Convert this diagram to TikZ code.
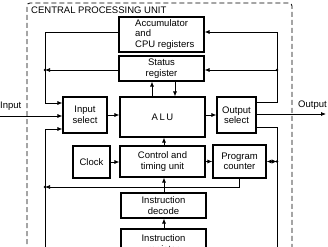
\documentclass[tikz,border=0pt]{standalone}
\usepackage{fontspec}
\setmainfont{Liberation Sans}
\usetikzlibrary{arrows.meta}
\begin{document}
\begin{tikzpicture}[x=1pt,y=-1pt,
  box/.style={draw, line width=1.1pt, inner sep=0pt, align=center, font=\fontsize{9.5}{10.5}\selectfont},
  lbl/.style={inner sep=0pt, font=\fontsize{9.5}{10.5}\selectfont},
  conn/.style={line width=0.75pt},
  tip/.tip={Latex[length=5pt,width=4pt]},
  arr/.style={conn, -tip},
  dot/.style={circle, fill, inner sep=0pt, minimum size=2.6pt},
  frame/.style={line width=0.8pt, dash pattern=on 5pt off 3pt, rounded corners=3pt}]
\fill[white] (0,0) rectangle (328,246);
\useasboundingbox (0,0) rectangle (328,246);
\clip (0,0) rectangle (328,246);
% frame and title
\draw[frame] (27,252) -- (27,3) -- (292,3) -- (292,252);
\node[lbl, anchor=west] (title) at (31,10) {CENTRAL PROCESSING UNIT};
% boxes
\node[box, minimum width=85pt, minimum height=35pt] (acc) at (161.5,34.5) {};
\node[lbl, align=left, anchor=west] (acctext) at (135,34.5) {Accumulator\\and\\CPU registers};
\node[box, minimum width=85pt, minimum height=25pt] (status) at (161.5,68.5) {Status\\register};
\node[box, minimum width=85pt, minimum height=40pt] (alu) at (162.5,117) {A\,L\,U};
\node[box, minimum width=44pt, minimum height=36pt] (insel) at (85,115) {Input\\select};
\node[box, minimum width=39pt, minimum height=36pt] (outsel) at (236.5,115) {Output\\select};
\node[box, minimum width=37pt, minimum height=32pt] (clock) at (91.5,162) {Clock};
\node[box, minimum width=85pt, minimum height=31pt] (ctrl) at (162.5,161.5) {Control and\\timing unit};
\node[box, minimum width=53pt, minimum height=33pt] (pc) at (239.5,161.5) {Program\\counter};
\node[box, minimum width=85pt, minimum height=25pt] (dec) at (163.5,205.5) {Instruction\\decode};
\node[box, minimum width=85pt, minimum height=31pt] (ireg) at (163.5,244.5) {Instruction\\register};
% outside labels
\node[lbl, anchor=west] (inlbl) at (0,106) {Input};
\node[lbl, anchor=west] (outlbl) at (298,105) {Output};
% helper coordinates
\coordinate (ua) at (45,32);
\coordinate (ub) at (45,103);
\coordinate (sj) at (45,70);
\coordinate (inL) at (0,116);
\coordinate (lb) at (45,129);
\coordinate (lbb) at (45,252);
\coordinate (fb) at (239.5,187);
\coordinate (fj) at (45,187);
\coordinate (sa1) at (152,0);
\coordinate (sa2) at (175,0);
\coordinate (cx) at (164,0);
\coordinate (rt) at (277,32);
\coordinate (rb) at (277,102);
\coordinate (rj) at (277,70);
\coordinate (rl) at (277,127);
\coordinate (rlb) at (277,252);
\coordinate (pj) at (277,161.5);
\coordinate (outR) at (326,114);
% left buses
\draw[arr] (acc.west |- ua) -- (ua) -- (ub) -- (insel.west |- ub);
\draw[arr] (status.west |- sj) -- (sj);
\node[dot] (sjdot) at (sj) {};
\draw[arr] (inL) -- (insel.west |- inL);
\draw[arr] (lbb) -- (lb) -- (insel.west |- lb);
\draw[arr] (pc.south) -- (fb) -- (fj);
\node[dot] (fjdot) at (fj) {};
% central arrows
\draw[arr] (insel.east) -- (alu.west |- insel.east);
\draw[arr] (alu.east |- outsel.west) -- (outsel.west);
\draw[arr] (alu.north -| sa1) -- (status.south -| sa1);
\draw[arr] (status.south -| sa2) -- (alu.north -| sa2);
\draw[arr] (ctrl.north -| cx) -- (alu.south -| cx);
\draw[arr] (dec.north -| cx) -- (ctrl.south -| cx);
\draw[arr] (ireg.north -| cx) -- (dec.south -| cx);
\draw[arr] (clock.east) -- (ctrl.west |- clock.east);
\draw[arr] (ctrl.east) -- (pc.west |- ctrl.east);
% right buses
\draw[arr] (outsel.east |- rb) -- (rb) -- (rt) -- (acc.east |- rt);
\draw[arr] (rj) -- (status.east |- rj);
\node[dot] (rjdot) at (rj) {};
\draw[conn] (outsel.east |- rl) -- (rl) -- (rlb);
\draw[conn, tip-tip] (pc.east) -- (pj);
\node[dot] (pjdot) at (pj) {};
\draw[arr] (outsel.east |- outR) -- (outR);
\end{tikzpicture}
\end{document}
